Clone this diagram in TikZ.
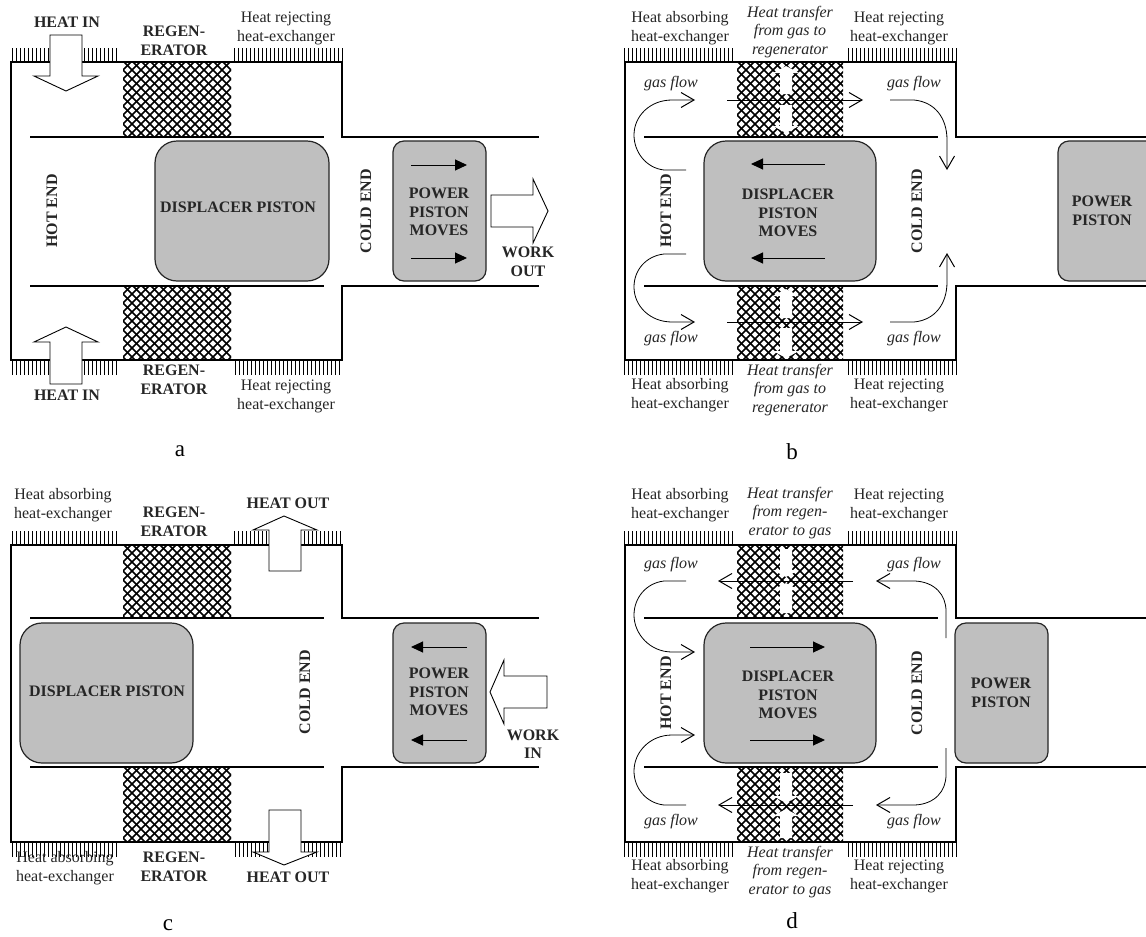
\documentclass[tikz,border=0pt]{standalone}
\usepackage{fontspec}
\setmainfont{Liberation Serif}
\usetikzlibrary{arrows.meta}
\tikzset{
  wall/.style={line width=1.9pt,line cap=rect},
  tick/.style={line width=0.8pt},
  hatch/.style={line width=1.5pt},
  piston/.style={draw=black!85,line width=1.2pt,fill=black!25},
  bigpiston/.style={piston,rounded corners=22pt},
  smallpiston/.style={piston,rounded corners=11pt},
  hollow/.style={draw=black,line width=0.9pt,fill=white,line join=miter},
  flow/.style={line width=0.8pt,-{Straight Barb[length=13pt,width=15pt,line width=1pt]}},
  mover/.style={line width=1pt,-{Triangle[length=12pt,width=11pt]}},
  txt/.style={inner sep=0pt,align=center,text=black!85,font=\fontsize{16}{19}\selectfont},
  btxt/.style={txt,font=\fontsize{16}{18.5}\selectfont\bfseries},
  itxt/.style={txt,font=\fontsize{16}{18.5}\selectfont\itshape},
  vtxt/.style={btxt,rotate=90},
  panel/.style={inner sep=0pt,font=\fontsize{23}{25}\selectfont}
}
\newcommand{\ticks}[4]{\foreach \k in {#1,\the\numexpr#1+4\relax,...,#2}{\draw[tick] (\k,#3) -- (\k,#4);}}
\newcommand{\mesh}[4]{\begin{scope}
  \clip (#1,#2) rectangle (#3,#4);
  \foreach \k in {-90,-81,...,207}{
    \draw[hatch] (#1+\k,#2-1) -- +(90,90);
    \draw[hatch] (#1+\k,#2-1) -- +(-90,90);
  }
\end{scope}}
\newcommand{\walls}[6]{
  \draw[wall] (#1+342,#4) -- (#1+342,#2) -- (#1+11,#2) -- (#1+11,#3) -- (#1+342,#3) -- (#1+342,#5) -- (#1+#6,#5);
  \draw[wall] (#1+342,#4) -- (#1+#6,#4);
  \draw[wall] (#1+31,#4) -- (#1+323,#4);
  \draw[wall] (#1+31,#5) -- (#1+323,#5);
}
\newcommand{\heatarrow}[4]{\fill[white] (#1-6,#2) -- (#1+6,#2) -- (#1+6,#3) -- (#1+13,#3) -- (#1,#4) -- (#1-13,#3) -- (#1-6,#3) -- cycle;}
\begin{document}
\begin{tikzpicture}[x=1pt,y=-1pt]
\useasboundingbox (0,0) rectangle (1146,937);
\fill[white] (0,0) rectangle (1146,937);

%%%%%% PANEL A
\mesh{123}{62}{231}{137}\mesh{123}{286}{231}{360}
\ticks{12}{48}{48}{62}\ticks{84}{119}{48}{62}\ticks{234}{342}{48}{62}
\ticks{12}{48}{361}{375}\ticks{84}{119}{361}{375}\ticks{235}{342}{361}{375}
\walls{0}{62}{360}{137}{286}{538}
\draw[hollow] (50,35) -- (82,35) -- (82,76) -- (98,76) -- (66,91) -- (34,76) -- (50,76) -- cycle;
\draw[hollow] (50,384) -- (82,384) -- (82,342) -- (98,342) -- (66,327) -- (34,342) -- (50,342) -- cycle;
\draw[bigpiston] (155,141) rectangle (329,281);
\draw[smallpiston] (393,141) rectangle (486,281);
\draw[mover] (411,165) -- (467,165);
\draw[mover] (411,258) -- (467,258);
\draw[hollow] (491,195) -- (533,195) -- (533,179) -- (548,211) -- (533,243) -- (533,227) -- (491,227) -- cycle;
\node[btxt] (aheatin) at (67,22) {HEAT IN};
\node[btxt] (areg) at (174,41) {REGEN-\\ERATOR};
\node[txt] (arej) at (286,28) {Heat rejecting\\heat-exchanger};
\node[btxt] (aregb) at (174,380) {REGEN-\\ERATOR};
\node[btxt] (aheatinb) at (67,395) {HEAT IN};
\node[txt] (arejb) at (286,396) {Heat rejecting\\heat-exchanger};
\node[vtxt] (ahot) at (52,211) {HOT END};
\node[vtxt] (acold) at (366,211) {COLD END};
\node[btxt] (adisp) at (238,207) {DISPLACER PISTON};
\node[btxt] (apow) at (439,212) {POWER\\PISTON\\MOVES};
\node[btxt] (awork) at (528,262) {WORK\\OUT};
\node[panel] (alab) at (180,451) {a};

%%%%%% PANEL B
\mesh{737}{62}{843}{137}\mesh{737}{286}{843}{360}
\heatarrow{786}{94}{73}{66}\heatarrow{786}{105}{126}{133}
\heatarrow{786}{318}{296}{289}\heatarrow{786}{328}{351}{358}
\ticks{624}{733}{48}{62}\ticks{848}{956}{48}{62}
\ticks{624}{733}{361}{375}\ticks{848}{956}{361}{375}
\walls{614}{62}{360}{137}{286}{532}
\draw[bigpiston] (704,141) rectangle (876,281);
\draw[smallpiston] (1058,141) rectangle (1160,281);
\draw[mover] (825,164) -- (751,164);
\draw[mover] (825,258) -- (751,258);
\draw[flow] (686,170) -- (664,170) .. controls (646,168) and (634,152) .. (634,135) .. controls (634,116) and (650,100) .. (672,100) -- (695,100);
\draw[flow] (686,254) -- (664,254) .. controls (646,256) and (634,270) .. (634,287) .. controls (634,306) and (650,322) .. (672,322) -- (695,322);
\draw[flow] (727,100) -- (863,100);
\draw[flow] (727,322) -- (863,322);
\draw[flow] (890,100) -- (914,100) .. controls (935,102) and (947,118) .. (947,140) -- (947,170);
\draw[flow] (890,322) -- (914,322) .. controls (935,320) and (947,304) .. (947,282) -- (947,253);
\node[txt] (babs) at (680,28) {Heat absorbing\\heat-exchanger};
\node[itxt] (btr) at (790,32) {Heat transfer\\from gas to\\regenerator};
\node[txt] (brej) at (899,28) {Heat rejecting\\heat-exchanger};
\node[txt] (babsb) at (680,395) {Heat absorbing\\heat-exchanger};
\node[itxt] (btrb) at (790,390) {Heat transfer\\from gas to\\regenerator};
\node[txt] (brejb) at (899,395) {Heat rejecting\\heat-exchanger};
\node[itxt] (bg1) at (671,84) {gas flow};
\node[itxt] (bg2) at (914,84) {gas flow};
\node[itxt] (bg3) at (671,339) {gas flow};
\node[itxt] (bg4) at (914,339) {gas flow};
\node[vtxt] (bhot) at (666,211) {HOT END};
\node[vtxt] (bcold) at (917,211) {COLD END};
\node[btxt] (bdisp) at (788,213) {DISPLACER\\PISTON\\MOVES};
\node[btxt] (bpow) at (1102,211) {POWER\\PISTON};
\node[panel] (blab) at (792,452) {b};

%%%%%% PANEL C
\mesh{123}{545}{231}{618}\mesh{123}{767}{231}{842}
\ticks{12}{119}{531}{545}\ticks{234}{266}{531}{545}\ticks{304}{342}{531}{545}
\ticks{12}{119}{843}{857}\ticks{235}{267}{843}{857}\ticks{304}{342}{843}{857}
\walls{0}{545}{842}{618}{767}{538}
\draw[hollow] (269,571) -- (301,571) -- (301,530) -- (317,530) -- (284,516) -- (253,530) -- (269,530) -- cycle;
\draw[hollow] (269,810) -- (301,810) -- (301,852) -- (317,852) -- (284,865) -- (253,852) -- (269,852) -- cycle;
\draw[bigpiston] (20,623) rectangle (193,763);
\draw[smallpiston] (393,623) rectangle (486,763);
\draw[mover] (467,647) -- (411,647);
\draw[mover] (467,740) -- (411,740);
\draw[hollow] (547,676) -- (504,676) -- (504,660) -- (490,692) -- (504,724) -- (504,708) -- (547,708) -- cycle;
\node[txt] (cabs) at (63,505) {Heat absorbing\\heat-exchanger};
\node[btxt] (creg) at (174,522) {REGEN-\\ERATOR};
\node[btxt] (cout) at (288,503) {HEAT OUT};
\node[txt] (cabsb) at (65,868) {Heat absorbing\\heat-exchanger};
\node[btxt] (cregb) at (174,867) {REGEN-\\ERATOR};
\node[btxt] (coutb) at (288,877) {HEAT OUT};
\node[vtxt] (ccold) at (305,692) {COLD END};
\node[btxt] (cdisp) at (107,691) {DISPLACER PISTON};
\node[btxt] (cpow) at (439,692) {POWER\\PISTON\\MOVES};
\node[btxt] (cwork) at (533,744) {WORK\\IN};
\node[panel] (clab) at (168,925) {c};

%%%%%% PANEL D
\mesh{737}{545}{843}{618}\mesh{737}{767}{843}{842}
\heatarrow{786}{549}{570}{577}\heatarrow{786}{613}{590}{583}
\heatarrow{786}{773}{796}{803}\heatarrow{786}{838}{816}{809}
\ticks{624}{733}{531}{545}\ticks{848}{956}{531}{545}
\ticks{624}{733}{843}{857}\ticks{848}{956}{843}{857}
\walls{614}{545}{842}{618}{767}{532}
\draw[bigpiston] (704,623) rectangle (876,763);
\draw[smallpiston] (955,623) rectangle (1048,763);
\draw[mover] (750,647) -- (825,647);
\draw[mover] (750,740) -- (825,740);
\draw[flow] (686,581) -- (664,581) .. controls (646,583) and (634,598) .. (634,615) .. controls (634,634) and (650,652) .. (672,652) -- (695,652);
\draw[flow] (686,805) -- (664,805) .. controls (646,803) and (634,788) .. (634,771) .. controls (634,752) and (650,735) .. (672,735) -- (695,735);
\draw[flow] (853,581) -- (718,581);
\draw[flow] (853,805) -- (718,805);
\draw[flow] (946,638) -- (946,611) .. controls (946,595) and (935,582) .. (915,581) -- (876,581);
\draw[flow] (946,748) -- (946,775) .. controls (946,791) and (935,804) .. (915,805) -- (876,805);
\node[txt] (dabs) at (680,505) {Heat absorbing\\heat-exchanger};
\node[itxt] (dtr) at (790,513) {Heat transfer\\from regen-\\erator to gas};
\node[txt] (drej) at (899,505) {Heat rejecting\\heat-exchanger};
\node[txt] (dabsb) at (680,876) {Heat absorbing\\heat-exchanger};
\node[itxt] (dtrb) at (790,872) {Heat transfer\\from regen-\\erator to gas};
\node[txt] (drejb) at (899,876) {Heat rejecting\\heat-exchanger};
\node[itxt] (dg1) at (671,565) {gas flow};
\node[itxt] (dg2) at (914,565) {gas flow};
\node[itxt] (dg3) at (671,822) {gas flow};
\node[itxt] (dg4) at (914,822) {gas flow};
\node[vtxt] (dhot) at (666,693) {HOT END};
\node[vtxt] (dcold) at (917,693) {COLD END};
\node[btxt] (ddisp) at (788,695) {DISPLACER\\PISTON\\MOVES};
\node[btxt] (dpow) at (1001,693) {POWER\\PISTON};
\node[panel] (dlab) at (792,921) {d};
\end{tikzpicture}
\end{document}
